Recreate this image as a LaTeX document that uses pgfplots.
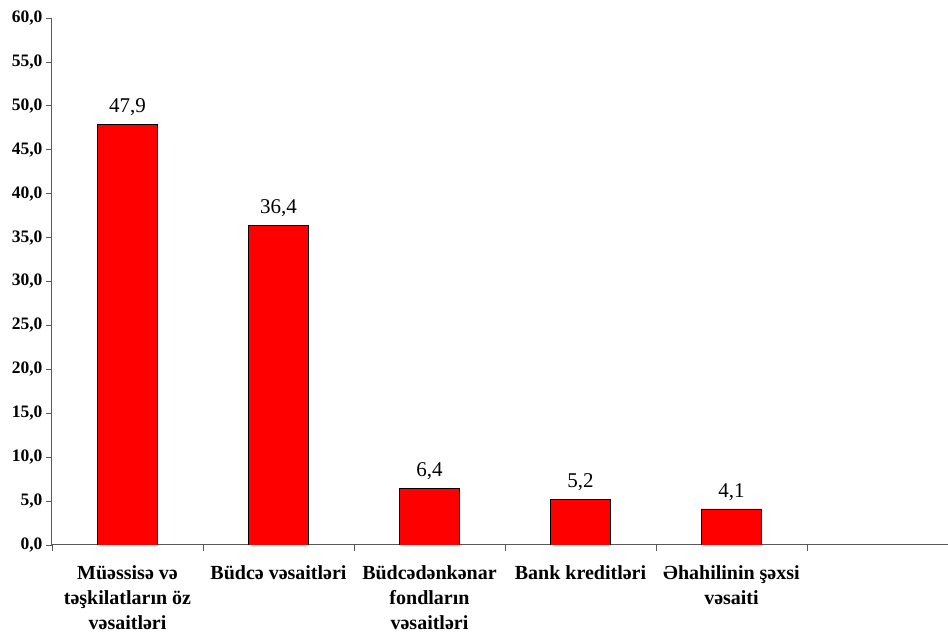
\documentclass[border=0pt]{standalone}
\usepackage{fontspec}
\setmainfont{Liberation Serif}
\usepackage{pgfplots}
\pgfplotsset{compat=1.18}

\begin{document}
\begin{tikzpicture}
\begin{axis}[
    scale only axis,
    width=896pt, height=527pt,
    xmin=-0.5, xmax=5.434,
    ymin=0, ymax=60,
    ytick={0,5,...,60},
    axis x line*=bottom,
    axis y line*=left,
    axis line style={black!65, line width=1pt},
    tick align=outside,
    major tick length=6pt,
    tick style={black!65, line width=0.8pt},
    xtick={-0.5,0.5,1.5,2.5,3.5,4.5},
    xticklabels={},
    extra x ticks={0,1,2,3,4},
    extra x tick labels={{Müəssisə və\\təşkilatların öz\\vəsaitləri},
        {Büdcə vəsaitləri},
        {Büdcədənkənar\\fondların\\vəsaitləri},
        {Bank kreditləri},
        {Əhahilinin şəxsi\\vəsaiti}},
    extra x tick style={major tick length=0pt,
        xticklabel style={align=center, font=\fontsize{20}{25}\selectfont\bfseries, yshift=-17pt}},
    yticklabel style={font=\fontsize{17.5}{20}\selectfont\bfseries},
    /pgf/number format/.cd, fixed, fixed zerofill, precision=1, use comma, assume math mode=true,
    /pgfplots/.cd,
    ybar, bar width=0.4,
    nodes near coords,
    every node near coord/.append style={font=\fontsize{21}{24}\selectfont, yshift=5pt},
]
\addplot[fill=red, draw=black, line width=0.8pt] coordinates {
    (0,47.9) (1,36.4) (2,6.4) (3,5.2) (4,4.1)
};
\coordinate (o) at (rel axis cs:0,0);
\coordinate (ne) at (rel axis cs:1,1);
\end{axis}
\pgfresetboundingbox
\path[use as bounding box] ([xshift=-52pt,yshift=-87pt]o) rectangle ([yshift=18pt]ne);
\end{tikzpicture}
\end{document}
